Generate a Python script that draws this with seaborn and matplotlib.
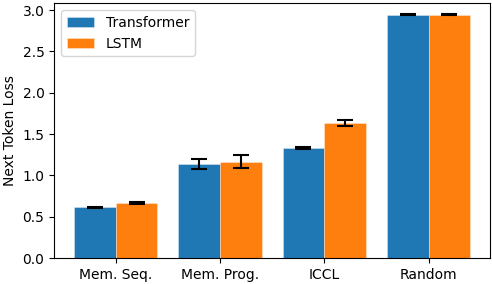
import numpy as np
import pandas as pd
import matplotlib
matplotlib.use("Agg")
import matplotlib.pyplot as plt
import seaborn as sns

# values
tasks = ["Mem. Seq.", "Mem. Prog.", "ICCL", "Random"]
models = ["Transformer", "LSTM"]
transformer_loss = [0.615, 1.135, 1.335, 2.945]
lstm_loss = [0.665, 1.165, 1.635, 2.945]
transformer_err = [0.006, 0.062, 0.012, 0.004]
lstm_err = [0.01, 0.077, 0.036, 0.004]

df = pd.DataFrame({
    "task": tasks * 2,
    "model": ["Transformer"] * 4 + ["LSTM"] * 4,
    "loss": transformer_loss + lstm_loss,
})
errs = transformer_err + lstm_err

plt.rcParams["font.family"] = ["DejaVu Sans"]
fig, ax = plt.subplots(figsize=(4.92, 2.84), dpi=100)
sns.barplot(data=df, x="task", y="loss", hue="model", hue_order=models,
            palette=["#1f77b4", "#ff7f0e"], saturation=1, errorbar=None,
            edgecolor=(1, 1, 1, 0.4), linewidth=0.6, ax=ax)

# error bars at the bar centres
bars = [p for p in ax.patches if p.get_height() > 0][:8]
for p, e in zip(bars, errs):
    ax.errorbar(p.get_x() + p.get_width() / 2, p.get_height(), yerr=e,
                fmt="none", ecolor="black", capsize=5.5, elinewidth=1.5,
                capthick=1.5)

ax.set_xlim(-0.59, 3.59)
ax.set_ylim(0, 3.085)
ax.set_xlabel("")
ax.set_ylabel("Next Token Loss")
ax.legend(loc="upper left")
fig.subplots_adjust(left=0.11, right=0.996, top=0.989, bottom=0.0915)
plt.savefig("out.png")
